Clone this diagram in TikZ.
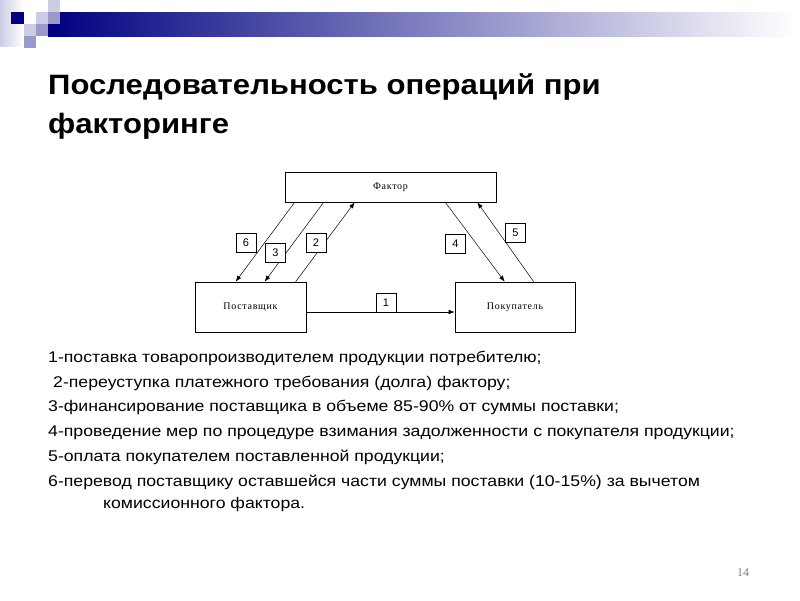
\documentclass[tikz,border=0pt]{standalone}
\usepackage{fontspec}
\setmainfont{Liberation Sans}
\newfontfamily\listfont[FakeStretch=1.14]{Liberation Sans}
\newfontfamily\titlefont[FakeStretch=1.11]{Liberation Sans}
\newfontfamily\diagfont[LetterSpace=7]{Liberation Serif}
\newfontfamily\numfont{Liberation Serif}
\usetikzlibrary{arrows.meta}
\definecolor{navy}{HTML}{000080}
\definecolor{lavm}{HTML}{9999CC}
\definecolor{lavl}{HTML}{CCCCE6}
\tikzset{
  entity/.style={draw, line width=0.7pt, fill=white, inner sep=0pt, font=\diagfont\fontsize{10}{12}\selectfont},
  numbox/.style={draw, line width=0.7pt, fill=white, minimum width=20pt, minimum height=19pt, inner sep=0pt, font=\fontsize{11}{12}\selectfont},
  conn/.style={line width=0.5pt, -{Latex[length=6pt,width=4.5pt]}},
  listline/.style={anchor=base west, inner sep=0pt, font=\listfont\fontsize{15.5}{18}\selectfont},
  titleline/.style={anchor=base west, inner sep=0pt, font=\titlefont\bfseries\fontsize{28}{34}\selectfont}
}
\begin{document}
\begin{tikzpicture}[x=1pt,y=-1pt]
\useasboundingbox (0,0) rectangle (800,600);
\fill[white] (0,0) rectangle (800,600);
% banner decoration
\shade[left color=lavl, right color=white] (0,0) rectangle (23,46);
\shade[left color=navy, right color=white] (48,12) rectangle (795,36);
\fill[navy] (11,12) rectangle (24,24);
\fill[lavl] (48,0) rectangle (60,12);
\fill[lavl] (36,12) rectangle (48,24);
\fill[lavm] (48,12) rectangle (60,24);
\fill[lavl] (24,24) rectangle (36,36);
\fill[lavm] (36,24) rectangle (48,36);
\fill[lavm] (24,36) rectangle (36,48);
% title
\node[titleline] (t1) at (48,94) {Последовательность операций при};
\node[titleline] (t2) at (48,133) {факторинге};
% diagram entities
\node[entity, minimum width=211pt, minimum height=30pt] (factor) at (390.5,187) {Фактор};
\node[entity, minimum width=111pt, minimum height=50pt] (sup) at (250.5,307) {Поставщик};
\node[entity, minimum width=120pt, minimum height=50pt] (buy) at (515,307) {Покупатель};
% connectors
\draw[conn] ([xshift=10pt]factor.south west) -- ([xshift=41pt]sup.north west);
\draw[conn] ([xshift=39pt]factor.south west) -- ([xshift=70pt]sup.north west);
\draw[conn] ([xshift=101pt]sup.north west) -- ([xshift=70pt]factor.south west);
\draw[conn] ([xshift=-51pt]factor.south east) -- ([xshift=50pt]buy.north west);
\draw[conn] ([xshift=79pt]buy.north west) -- ([xshift=-19pt]factor.south east);
\draw[conn] ([yshift=-5pt]sup.east) -- ([yshift=-5pt]buy.west);
% number boxes
\node[numbox] (n6) at (246,243) {6};
\node[numbox] (n3) at (275.5,253) {3};
\node[numbox] (n2) at (316,243) {2};
\node[numbox] (n4) at (455.5,244) {4};
\node[numbox] (n5) at (515.5,232.5) {5};
\node[numbox] (n1) at (386,302.5) {1};
% list
\node[listline] (l1) at (48,362) {1-поставка товаропроизводителем продукции потребителю;};
\node[listline] (l2) at (53,387) {2-переуступка платежного требования (долга) фактору;};
\node[listline] (l3) at (48,411) {3-финансирование поставщика в объеме 85-90\% от суммы поставки;};
\node[listline] (l4) at (48,436) {4-проведение мер по процедуре взимания задолженности с покупателя продукции;};
\node[listline] (l5) at (48,461) {5-оплата покупателем поставленной продукции;};
\node[listline] (l6) at (48,486) {6-перевод поставщику оставшейся части суммы поставки (10-15\%) за вычетом};
\node[listline] (l7) at (103,508) {комиссионного фактора.};
% page number
\node[font=\numfont\fontsize{12}{14}\selectfont, text=gray] (pg) at (743,573) {14};
\end{tikzpicture}
\end{document}
